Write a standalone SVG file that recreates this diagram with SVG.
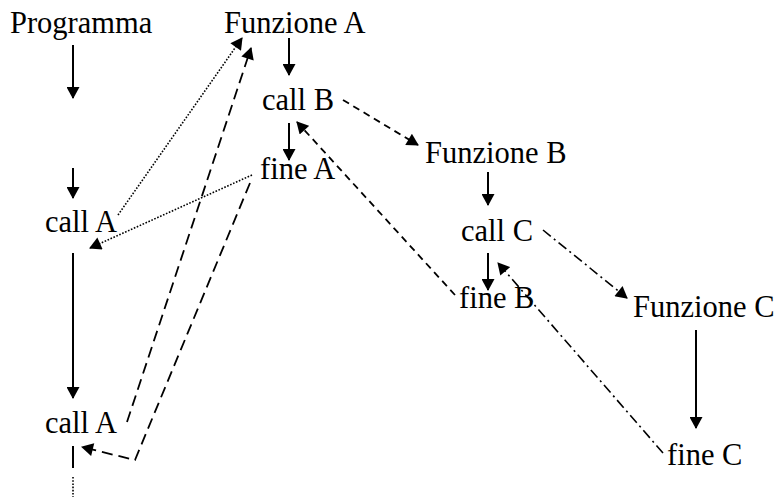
<svg xmlns="http://www.w3.org/2000/svg" width="775" height="497" viewBox="0 0 775 497">
  <style>
    text { font-family: "Liberation Serif", "Times New Roman", serif; font-size: 30.5px; fill: #000; }
    .solid { stroke: #000; stroke-width: 2; fill: none; }
    .dotted { stroke: #000; stroke-width: 1.6; fill: none; stroke-dasharray: 1.6 1.6; }
    .long { stroke: #000; stroke-width: 1.8; fill: none; stroke-dasharray: 11 6; }
    .short { stroke: #000; stroke-width: 1.8; fill: none; stroke-dasharray: 7 5; }
    .dashdot { stroke: #000; stroke-width: 1.6; fill: none; stroke-dasharray: 10 4 2 4; }
  </style>
  <defs>
    <marker id="head" markerUnits="userSpaceOnUse" markerWidth="13" markerHeight="13" viewBox="0 0 12 13" refX="11" refY="6.5" orient="auto">
      <path d="M0,0 L12,6.5 L0,13 z" fill="#000"/>
    </marker>
  </defs>

  <g id="programma"><text x="10" y="33">Programma</text></g>
  <g id="callA1"><text x="45" y="232">call A</text></g>
  <g id="callA2"><text x="45" y="433">call A</text></g>
  <g id="funzioneA"><text x="224" y="33">Funzione A</text></g>
  <g id="callB"><text x="262" y="110">call B</text></g>
  <g id="fineA"><text x="260" y="179">fine A</text></g>
  <g id="funzioneB"><text x="425" y="163">Funzione B</text></g>
  <g id="callC"><text x="461" y="241">call C</text></g>
  <g id="fineB"><text x="459" y="308">fine B</text></g>
  <g id="funzioneC"><text x="633" y="317">Funzione C</text></g>
  <g id="fineC"><text x="667" y="465">fine C</text></g>

  <g id="connectors">
    <!-- main program flow -->
    <line class="solid" x1="73" y1="45" x2="73" y2="98" marker-end="url(#head)"/>
    <line class="solid" x1="73" y1="168" x2="73" y2="198" marker-end="url(#head)"/>
    <line class="solid" x1="73" y1="253" x2="73" y2="398" marker-end="url(#head)"/>
    <line class="solid" x1="73" y1="446" x2="73" y2="468"/>
    <line class="dotted" x1="73" y1="477" x2="73" y2="497"/>

    <!-- inside the functions -->
    <line class="solid" x1="289" y1="38" x2="289" y2="75" marker-end="url(#head)"/>
    <line class="solid" x1="289" y1="123" x2="289" y2="160" marker-end="url(#head)"/>
    <line class="solid" x1="488" y1="172" x2="488" y2="205" marker-end="url(#head)"/>
    <line class="solid" x1="488" y1="253" x2="488" y2="290" marker-end="url(#head)"/>
    <line class="solid" x1="696" y1="330" x2="696" y2="428" marker-end="url(#head)"/>

    <!-- first call of A -->
    <line class="dotted" x1="118" y1="215" x2="242" y2="38" marker-end="url(#head)"/>
    <line class="dotted" x1="252" y1="175" x2="90" y2="248" marker-end="url(#head)"/>

    <!-- second call of A -->
    <line class="long" x1="127" y1="422" x2="251" y2="48" marker-end="url(#head)"/>
    <polyline class="long" points="250,183 135,460 82,447" marker-end="url(#head)"/>

    <!-- call of B -->
    <line class="short" x1="343" y1="100" x2="418" y2="145" marker-end="url(#head)"/>
    <line class="short" x1="455" y1="295" x2="297" y2="122" marker-end="url(#head)"/>

    <!-- call of C -->
    <line class="dashdot" x1="543" y1="230" x2="627" y2="298" marker-end="url(#head)"/>
    <line class="dashdot" x1="663" y1="453" x2="498" y2="263" marker-end="url(#head)"/>
  </g>
</svg>
